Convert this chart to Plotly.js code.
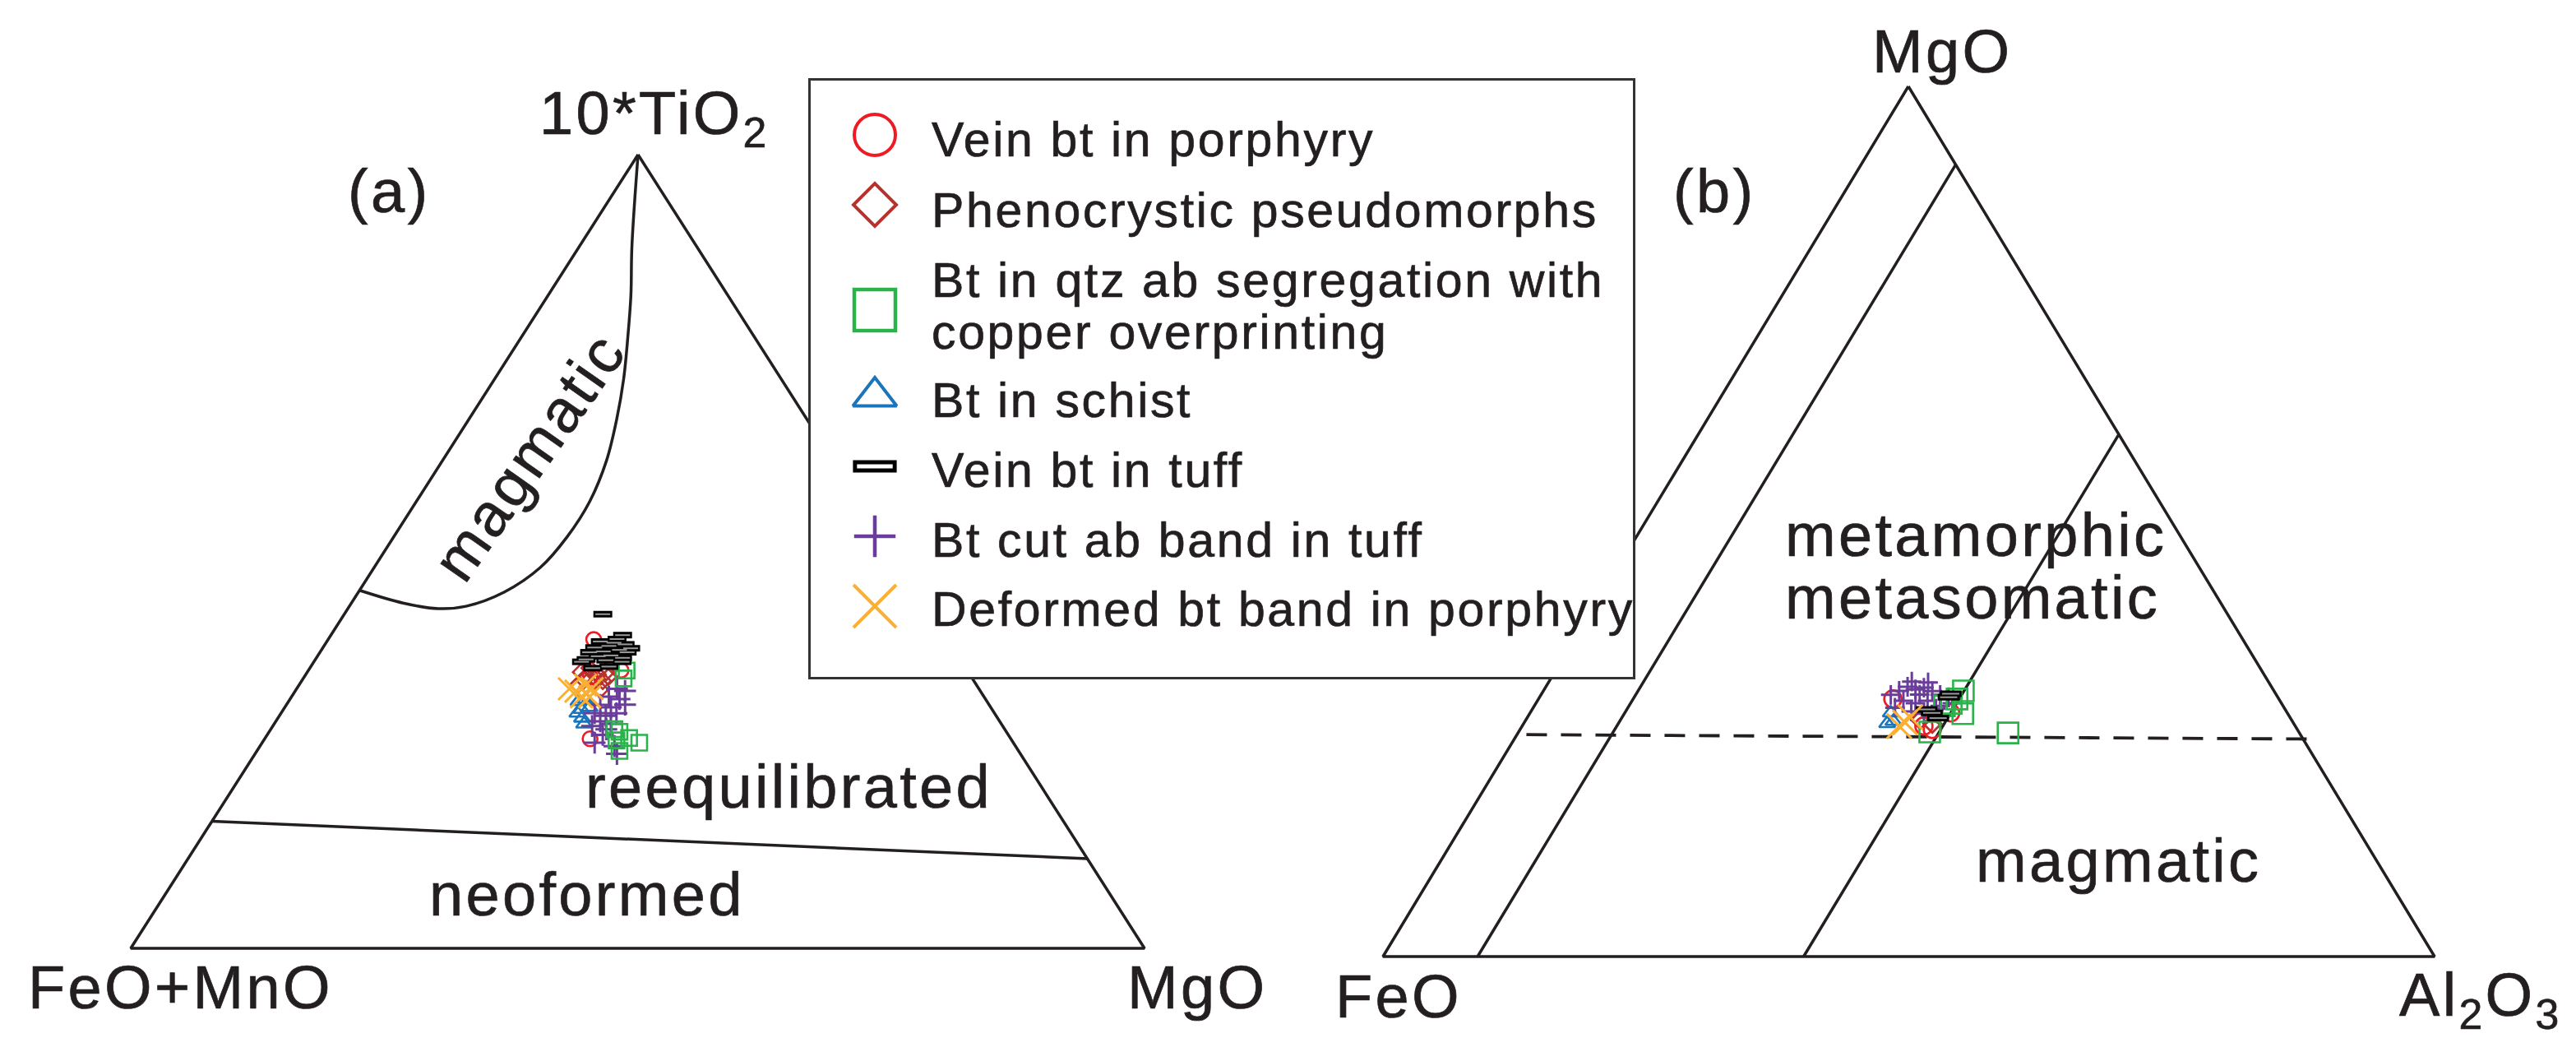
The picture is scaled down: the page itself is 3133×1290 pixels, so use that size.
<!DOCTYPE html>
<html><head><meta charset="utf-8">
<script src="https://cdn.plot.ly/plotly-3.0.1.min.js"></script>
<style>
html,body{margin:0;padding:0;background:#fff;}
#chart{width:3133px;height:1290px;}
svg text{letter-spacing:0.045em;stroke:#231f20;stroke-width:0.7px;}
</style></head><body><div id="chart"></div>
<script>
// ================= DATA =================
// Legend / series names
const seriesNames = ["Vein bt in porphyry","Phenocrystic pseudomorphs","Bt in qtz ab segregation with<br>copper overprinting","Bt in schist","Vein bt in tuff","Bt cut ab band in tuff","Deformed bt band in porphyry"];

// Diagram (a): each row = [10*TiO2, FeO+MnO, MgO] (%)
const aVeinPorphyry = [[38.9,34.9,26.2],[35.0,34.1,30.8],[26.4,41.5,32.1],[34.2,37.6,28.2],[35.9,36.0,28.1]];
const aPhenocrystic = [[34.8,38.2,27.0],[35.3,37.1,27.6],[34.5,36.7,28.8],[34.8,35.7,29.5],[33.8,38.4,27.8],[33.5,37.5,29.0],[33.7,36.6,29.7],[34.2,35.8,30.0],[33.2,39.3,27.5],[32.7,38.4,28.9],[32.6,37.4,30.0],[34.3,37.9,27.8]];
const aQtzAbSeg = [[35.0,33.6,31.4],[34.0,34.4,31.6],[27.3,38.2,34.6],[25.9,36.9,37.2],[24.9,39.4,35.8],[26.2,39.0,34.8],[26.5,37.6,35.9],[27.6,38.5,33.9]];
const aSchist = [[31.1,40.3,28.6],[30.1,40.5,29.4],[29.0,41.0,30.0],[28.3,41.2,30.6],[29.6,41.1,29.2],[30.4,39.6,30.1],[31.4,39.5,29.2]];
const aVeinTuff = [[42.1,32.4,25.5],[39.5,31.8,28.8],[39.0,32.6,28.5],[38.7,34.4,27.0],[38.3,32.1,29.6],[38.1,33.8,28.1],[37.9,35.3,26.8],[37.6,33.0,29.4],[37.4,34.7,27.9],[37.3,36.1,26.6],[37.3,32.4,30.3],[36.9,34.2,28.9],[36.8,35.5,27.7],[36.6,33.2,30.2],[36.1,37.5,26.4],[36.3,35.0,28.7],[35.3,36.8,27.9],[35.5,35.1,29.4],[36.1,33.5,30.4],[36.4,36.9,26.7],[38.5,33.1,28.4],[37.8,31.8,30.4]];
const aCutAbBand = [[32.7,35.7,31.6],[32.4,35.0,32.5],[31.7,37.0,31.3],[31.4,36.1,32.5],[30.7,38.4,31.0],[30.4,37.5,32.2],[30.7,35.9,33.4],[29.6,39.4,30.9],[29.3,38.5,32.2],[29.6,37.3,33.1],[28.6,39.4,32.0],[28.3,38.5,33.2],[28.0,40.5,31.5],[27.6,39.3,33.1],[25.9,41.3,32.8],[25.5,39.6,35.0],[24.5,39.8,35.7],[26.9,40.0,33.1]];
const aDeformed = [[32.7,40.4,26.9],[33.2,38.6,28.3],[32.7,38.1,29.1],[31.7,39.7,28.6],[32.4,39.9,27.7],[31.7,38.9,29.4]];

// Diagram (a) field boundaries: [10*TiO2, FeO+MnO, MgO]
const aMagmaticBoundary = [[100,0,0],[88.4,6.4,5.2],[82.2,9.6,8.2],[77.0,12.5,10.5],[71.8,15.5,12.7],[66.6,18.8,14.6],[61.5,22.4,16.2],[56.3,26.6,17.1],[51.8,31.1,17.1],[48.0,35.6,16.4],[44.9,40.7,14.4],[43.1,45.4,11.5],[42.8,48.3,8.9],[43.5,51.4,5.1],[45.1,54.9,0]];
const aNeoformedBoundary = [[16.0,84.0,0],[11.3,0,88.7]];

// Diagram (b): each row = [MgO, FeO, Al2O3] (%)
const bVeinPorphyry = [[29.6,36.7,33.7],[26.1,34.7,39.2],[28.0,32.0,40.0],[26.5,35.3,38.2]];
const bPhenocrystic = [[26.8,34.4,38.9],[27.2,35.3,37.5]];
const bQtzAbSeg = [[30.5,29.5,39.9],[27.9,30.9,41.2],[29.6,30.6,39.8],[29.1,31.4,39.5],[25.8,35.1,39.1],[25.7,27.7,46.6],[28.8,32.2,39.0]];
const bSchist = [[26.8,38.7,34.6],[27.0,37.9,35.0],[28.0,37.7,34.3]];
const bVeinTuff = [[29.8,31.3,38.9],[27.4,33.5,39.1],[28.4,34.1,37.5],[30.2,30.9,38.9],[28.0,33.8,38.2]];
const bCutAbBand = [[30.1,36.7,33.3],[30.5,35.6,33.8],[31.0,34.6,34.4],[30.7,34.0,35.3],[30.9,33.1,36.0],[30.5,32.5,37.0],[30.1,32.0,38.0],[29.8,31.3,38.9],[29.4,35.8,34.8],[29.1,34.8,36.1],[29.4,33.5,37.1],[28.8,32.6,38.6],[28.6,37.0,34.4],[28.2,35.7,36.2],[27.9,34.6,37.5],[28.5,33.2,38.4],[29.1,31.3,39.6],[30.1,33.9,36.0],[31.6,33.9,34.5],[31.5,32.4,36.1]];
const bDeformed = [[26.9,36.9,36.2],[26.5,37.7,35.9],[27.5,36.1,36.4]];

// Diagram (b) field boundaries: [MgO, FeO, Al2O3]
const bLineAl9 = [[0,91,9],[91,0,9]];
const bLineAl40 = [[0,60,40],[60,0,40]];
const bDashed = [[25.5,73.6,0.9],[25.0,-0.7,75.7]];

// ================= LAYOUT HELPERS =================
const W = 3133, H = 1290;
const geomA = {bl:[159,1153], br:[1392,1153], apex:[776,188]};
const geomB = {bl:[1682,1163], br:[2961,1163], apex:[2321,105]};
const PAD = 0.06;
function domains(g){
  const w = g.br[0]-g.bl[0], h = g.bl[1]-g.apex[1];
  return {x:[(g.bl[0]-PAD*w)/W,(g.br[0]+PAD*w)/W], y:[(H-(g.bl[1]+PAD*h))/H,(H-(g.apex[1]-PAD*h))/H], f:(g.apex[0]-g.bl[0])/w};
}
const dA = domains(geomA), dB = domains(geomB);
function project(rows, f){
  const x=[], y=[];
  rows.forEach(function(r){ const s=r[0]+r[1]+r[2]; x.push((r[2]+r[0]*f)/s); y.push(r[0]/s); });
  return {x:x, y:y};
}
const px = v => v/W, py = v => (H-v)/H;
const INK = '#231f20';
const FRAME_W = 3.5;

const styles = [
  {symbol:'circle-open', color:'#ed1c24', sA:18, sB:21, sL:50, lw:2.6, lwL:4},
  {symbol:'diamond-open', color:'#b5322e', sA:15, sB:17, sL:40, lw:2.6, lwL:4},
  {symbol:'square-open', color:'#2bb34b', sA:19, sB:25, sL:50, lw:2.6, lwL:4.5},
  {symbol:'triangle-up-open', color:'#1b75bb', sA:17, sB:17, sL:46, lw:2.6, lwL:4},
  {symbol:'line-ew', color:'#000000', sA:16.4, sB:19, sL:38, lw:8, lwL:15, innerA:12.9, innerB:15, innerL:31, ilw:2, ilwL:5, innerColor:'#9a9a9a'},
  {symbol:'cross-thin-open', color:'#6a3d9a', sA:19, sB:17, sL:36, lw:3, lwL:4.5},
  {symbol:'x-thin-open', color:'#fbb034', sA:27, sB:30, sL:52, lw:3, lwL:4}
];
const drawOrder = [1,0,3,5,2,4,6];

const traces = [];
function lineTrace(rows, f, ax, extra){
  const p = project(rows, f);
  return Object.assign({type:'scatter', mode:'lines', x:p.x, y:p.y, xaxis:ax[0], yaxis:ax[1], showlegend:false, hoverinfo:'skip', line:{color:INK, width:FRAME_W}}, extra||{});
}
const outline = [[100,0,0],[0,100,0],[0,0,100],[100,0,0]];
traces.push(lineTrace(outline, dA.f, ['x','y']));
traces.push(lineTrace(aMagmaticBoundary, dA.f, ['x','y'], {line:{color:INK,width:FRAME_W,shape:'spline',smoothing:1}}));
traces.push(lineTrace(aNeoformedBoundary, dA.f, ['x','y']));
traces.push(lineTrace(outline, dB.f, ['x2','y2']));
traces.push(lineTrace(bLineAl9, dB.f, ['x2','y2']));
traces.push(lineTrace(bLineAl40, dB.f, ['x2','y2']));
traces.push(lineTrace(bDashed, dB.f, ['x2','y2'], {line:{color:INK,width:3.8,dash:'25px,17px'}}));

const aSets = [aVeinPorphyry,aPhenocrystic,aQtzAbSeg,aSchist,aVeinTuff,aCutAbBand,aDeformed];
const bSets = [bVeinPorphyry,bPhenocrystic,bQtzAbSeg,bSchist,bVeinTuff,bCutAbBand,bDeformed];

function pointTraces(rows, f, ax, st, size, inner){
  const p = project(rows, f);
  const out = [{type:'scatter', mode:'markers', x:p.x, y:p.y, xaxis:ax[0], yaxis:ax[1], showlegend:false, cliponaxis:false,
    marker:{symbol:st.symbol, color:st.color, size:size, line:{color:st.color, width:st.lw}}}];
  if(inner){
    out.push({type:'scatter', mode:'markers', x:p.x, y:p.y, xaxis:ax[0], yaxis:ax[1], showlegend:false, cliponaxis:false, hoverinfo:'skip',
      marker:{symbol:'line-ew', color:st.innerColor, size:inner, line:{color:st.innerColor, width:st.ilw}}});
  }
  return out;
}
drawOrder.forEach(function(i){
  const st = styles[i];
  pointTraces(aSets[i], dA.f, ['x','y'], st, st.sA, st.innerA).forEach(t=>traces.push(t));
});
drawOrder.forEach(function(i){
  const st = styles[i];
  pointTraces(bSets[i], dB.f, ['x2','y2'], st, st.sB, st.innerB).forEach(t=>traces.push(t));
});

// Legend panel (own subplot so it masks the frames behind it)
const legBox = {x0:986, y0:98, x1:1986, y1:823};
const legMarkerX = 78;
const legMarkerY = [66,151,279,384,469,554,639];
const legTextY = [[170],[256],[341,404],[487],[572],[657],[741]];
const legTextX = 1131;
seriesNames.forEach(function(name,i){
  const st = styles[i];
  traces.push({type:'scatter', mode:'markers', x:[legMarkerX], y:[legMarkerY[i]], xaxis:'x3', yaxis:'y3', showlegend:false, hoverinfo:'skip', cliponaxis:false,
    marker:{symbol:st.symbol, color:st.color, size:st.sL, line:{color:st.color, width:st.lwL}}});
  if(st.innerL){
    traces.push({type:'scatter', mode:'markers', x:[legMarkerX], y:[legMarkerY[i]], xaxis:'x3', yaxis:'y3', showlegend:false, hoverinfo:'skip', cliponaxis:false,
      marker:{symbol:'line-ew', color:'#ffffff', size:st.innerL, line:{color:'#ffffff', width:st.ilwL}}});
  }
});

const FONT = 'Liberation Sans, Arial, Helvetica, sans-serif';
const LEGFS = 59, LABFS = 74;
const annotations = [];
function label(text, x, y, size, extra){
  annotations.push(Object.assign({text:text, xref:'paper', yref:'paper', x:px(x), y:py(y), xanchor:'center', yanchor:'middle', showarrow:false,
    font:{family:FONT, size:size, color:INK}}, extra||{}));
}
seriesNames.forEach(function(name,i){
  name.split('<br>').forEach(function(line,j){
    label(line, legTextX, legTextY[i][j], LEGFS, {xanchor:'left', align:'left'});
  });
});
label('10*TiO<sub>2</sub>', 796, 143, LABFS);
label('(a)', 473, 232, LABFS);
label('magmatic', 643, 555, LABFS, {textangle:-55});
label('reequilibrated', 959, 957, LABFS);
label('neoformed', 714, 1087, LABFS);
label('FeO+MnO', 219, 1200, LABFS);
label('MgO', 1456, 1200, LABFS);
label('MgO', 2362, 62, LABFS);
label('(b)', 2085, 232, LABFS);
label('FeO', 1701, 1211, LABFS);
label('Al<sub>2</sub>O<sub>3</sub>', 3017, 1215, LABFS);
label('metamorphic', 2169, 650, LABFS, {xanchor:'left', align:'left'});
label('metasomatic', 2169, 726, LABFS, {xanchor:'left', align:'left'});
label('magmatic', 2576, 1046, LABFS);

const hidden = {visible:false, fixedrange:true};
const layout = {
  width:W, height:H, margin:{l:0,r:0,t:0,b:0}, paper_bgcolor:'#ffffff', plot_bgcolor:'#ffffff', showlegend:false,
  xaxis: Object.assign({domain:dA.x, range:[-PAD,1+PAD], anchor:'y'}, hidden),
  yaxis: Object.assign({domain:dA.y, range:[-PAD,1+PAD], anchor:'x'}, hidden),
  xaxis2: Object.assign({domain:dB.x, range:[-PAD,1+PAD], anchor:'y2'}, hidden),
  yaxis2: Object.assign({domain:dB.y, range:[-PAD,1+PAD], anchor:'x2'}, hidden),
  xaxis3: {domain:[legBox.x0/W, legBox.x1/W], range:[0, legBox.x1-legBox.x0], anchor:'y3', showline:true, mirror:true, linecolor:'#333333', linewidth:3, showgrid:false, zeroline:false, showticklabels:false, ticks:'', fixedrange:true},
  yaxis3: {domain:[py(legBox.y1), py(legBox.y0)], range:[legBox.y1-legBox.y0, 0], anchor:'x3', showline:true, mirror:true, linecolor:'#333333', linewidth:3, showgrid:false, zeroline:false, showticklabels:false, ticks:'', fixedrange:true},
  annotations: annotations
};
Plotly.newPlot('chart', traces, layout, {displayModeBar:false, staticPlot:true});
</script></body></html>
